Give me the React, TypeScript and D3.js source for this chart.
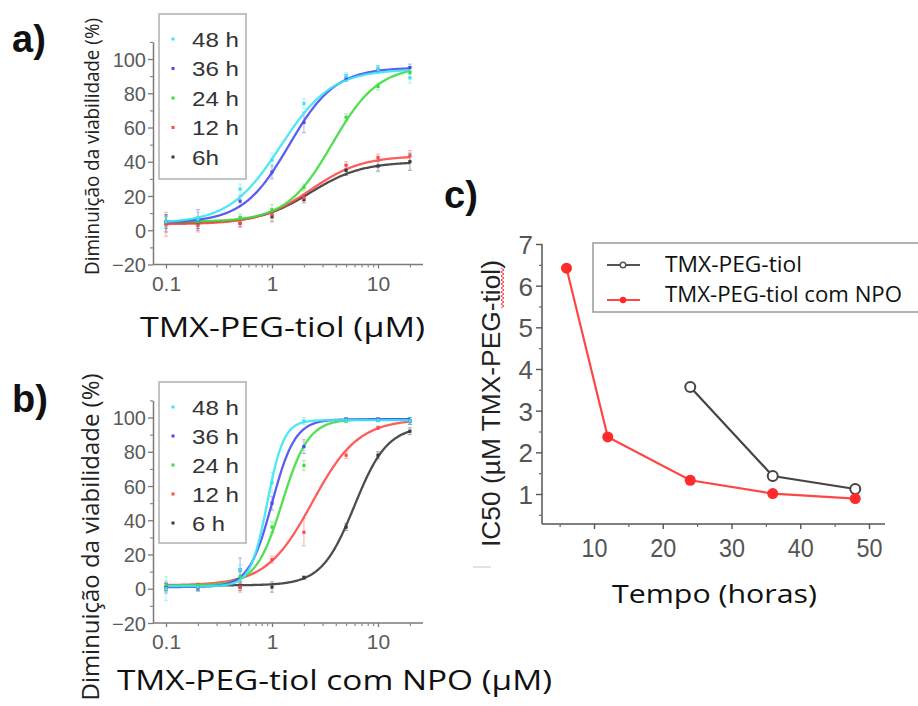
import React, { useEffect, useRef } from "react";
import * as d3 from "d3";

// ---------- Data ----------
const conc = [0.1, 0.2, 0.5, 1, 2, 5, 10, 20];
const seriesLabelsA = ["48 h", "36 h", "24 h", "12 h", "6h"];
const seriesLabelsB = ["48 h", "36 h", "24 h", "12 h", "6 h"];
const seriesColors = ["#3be6f2", "#4a4cf0", "#3fdc3f", "#ff4a4a", "#3a3a3a"];

// panel a: measured points (decrease in viability, %)
const a48 = [5, 6.5, 24, 41, 74, 90, 94, 89];
const a36 = [5, 6, 17, 34, 63, 89, 94, 95];
const a24 = [5, 5, 7.5, 12, 25, 66, 84, 92];
const a12 = [3.5, 3, 4, 9, 19, 38, 42.5, 43.5];
const a6 = [4, 4, 4, 8, 18, 35, 37.5, 40];
const aErr48 = [3, 4, 3, 4, 3, 2, 2, 3];
const aErr36 = [4, 6, 3, 4, 6, 2, 2, 2];
const aErr24 = [3, 3, 2, 3, 2, 2, 2, 3];
const aErr12 = [7, 4, 2, 2, 2, 2, 2, 3];
const aErr6 = [5, 3, 2, 3, 2, 3, 3, 5];
// panel a: fitted logistic parameters
const aBottom = [4, 4.5, 5, 3.5, 4];
const aTop = [94, 95, 96, 43.5, 40];
const aIC50 = [1.2, 1.45, 3.7, 2.3, 2.3];
const aHill = [1.8, 2, 2, 1.8, 1.8];

// panel b
const b48 = [0, 1, 11, 62, 98, 98.5, 98.5, 98];
const b36 = [0.5, 0.5, 11, 50, 83, 99, 99, 98];
const b24 = [1.5, 1.5, 7, 36, 72, 98, 98.5, 98];
const b12 = [1, 1, 1, 17, 33, 78, 94, 98];
const b6 = [1, 1, 1, 1, 6.5, 36, 78, 92];
const bErr48 = [7, 2, 3, 6, 2, 1, 1, 2];
const bErr36 = [3, 2, 7, 4, 4, 1, 1, 2];
const bErr24 = [3, 2, 3, 3, 3, 1, 1, 2];
const bErr12 = [2, 2, 3, 2, 8, 2, 1, 2];
const bErr6 = [2, 2, 2, 3, 1, 2, 2, 2];
const bBottom = [1.5, 1, 2, 2, 2];
const bTop = [98.5, 99, 99, 99, 95];
const bIC50 = [0.9, 1.0, 1.25, 2.4, 6];
const bHill = [5.5, 4, 3.5, 2, 2.8];

const yTicksAB = [-20, 0, 20, 40, 60, 80, 100];
const yMinorAB = [-10, 10, 30, 50, 70, 90, 110];
const xTicksAB = [0.1, 1, 10];
const xMinorAB = [0.2, 0.3, 0.4, 0.5, 0.6, 0.7, 0.8, 0.9, 2, 3, 4, 5, 6, 7, 8, 9, 20];

// panel c
const timeNPO = [6, 12, 24, 36, 48];
const ic50NPO = [6.42, 2.37, 1.33, 1.01, 0.89];
const timeFree = [24, 36, 48];
const ic50Free = [3.57, 1.43, 1.12];
const yTicksC = [1, 2, 3, 4, 5, 6, 7];
const yMinorC = [0.5, 1.5, 2.5, 3.5, 4.5, 5.5, 6.5];
const xTicksC = [10, 20, 30, 40, 50];
const xMinorC = [5, 15, 25, 35, 45];
const legendC = ["TMX-PEG-tiol", "TMX-PEG-tiol com NPO"];

const CAL = "'Open Sans', 'Noto Sans', sans-serif";
const HEL = "'Liberation Sans', Arial, sans-serif";

type PanelProps = {
  offset: number;
  data: number[][];
  errs: number[][];
  bottom: number[];
  top: number[];
  ic50: number[];
  hill: number[];
  labels: string[];
  labelWidths: number[];
};

function DosePanel(p: PanelProps) {
  const yAxisRef = useRef<SVGGElement>(null);
  const yMinRef = useRef<SVGGElement>(null);
  const xAxisRef = useRef<SVGGElement>(null);
  const xMinRef = useRef<SVGGElement>(null);

  const y = d3.scaleLinear().domain([-20, 110]).range([264.5 + p.offset, 41.9 + p.offset]);
  const x = d3.scaleLog().domain([0.1, 10]).range([166, 378]);
  const axisY = 264.5 + p.offset;

  useEffect(() => {
    const gy = d3.select(yAxisRef.current!);
    gy.call(d3.axisLeft(y).tickValues(yTicksAB).tickSize(5).tickSizeOuter(0).tickPadding(2) as any);
    gy.select(".domain").attr("stroke", "#7a7a7a").attr("stroke-width", 1.5);
    gy.selectAll(".tick line").attr("stroke", "#7a7a7a").attr("stroke-width", 1.3);
    gy.selectAll(".tick text")
      .attr("fill", "#5a5a5a")
      .attr("font-size", 20)
      .attr("font-family", HEL)
      .attr("dy", "0.36em");

    const gm = d3.select(yMinRef.current!);
    gm.call(d3.axisLeft(y).tickValues(yMinorAB).tickSize(3).tickFormat(() => "") as any);
    gm.select(".domain").remove();
    gm.selectAll(".tick line").attr("stroke", "#8a8a8a").attr("stroke-width", 1.2);

    const gx = d3.select(xAxisRef.current!);
    gx.call(d3.axisBottom(x).tickValues(xTicksAB).tickSize(4).tickFormat(d3.format("~g")) as any);
    gx.select(".domain").remove();
    gx.selectAll(".tick line").attr("stroke", "#7a7a7a").attr("stroke-width", 1.3);
    gx.selectAll(".tick text")
      .attr("fill", "#5a5a5a")
      .attr("font-size", 21)
      .attr("font-family", HEL)
      .attr("y", 26)
      .attr("dy", 0);

    const gxm = d3.select(xMinRef.current!);
    gxm.call(d3.axisBottom(x).tickValues(xMinorAB).tickSize(3).tickFormat(() => "") as any);
    gxm.select(".domain").remove();
    gxm.selectAll(".tick line").attr("stroke", "#8a8a8a").attr("stroke-width", 1.2);
  }, []);

  const curveX = d3.range(0, 241).map((i) => 0.1 * Math.pow(200, i / 240));
  const order = [4, 3, 2, 1, 0];

  return (
    <g>
      <line x1={153} x2={423} y1={axisY} y2={axisY} stroke="#7a7a7a" strokeWidth={1.5} />
      <g ref={yAxisRef} transform="translate(153,0)" />
      <g ref={yMinRef} transform="translate(153,0)" />
      <g ref={xAxisRef} transform={`translate(0,${axisY})`} />
      <g ref={xMinRef} transform={`translate(0,${axisY})`} />

      {/* error bars */}
      {order.map((s) =>
        p.data[s].map((v, i) => {
          const cx = x(conc[i]);
          const e = p.errs[s][i];
          return (
            <g key={`e${s}-${i}`} stroke={seriesColors[s]} strokeWidth={1} opacity={0.45}>
              <line x1={cx} x2={cx} y1={y(v - e)} y2={y(v + e)} />
              <line x1={cx - 2} x2={cx + 2} y1={y(v - e)} y2={y(v - e)} />
              <line x1={cx - 2} x2={cx + 2} y1={y(v + e)} y2={y(v + e)} />
            </g>
          );
        })
      )}

      {/* fitted curves */}
      {order.map((s) => {
        const f = (c: number) =>
          p.bottom[s] + (p.top[s] - p.bottom[s]) / (1 + Math.pow(p.ic50[s] / c, p.hill[s]));
        const ln = d3
          .line<number>()
          .x((c) => x(c))
          .y((c) => y(f(c)));
        return (
          <path
            key={`c${s}`}
            d={ln(curveX) || ""}
            fill="none"
            stroke={seriesColors[s]}
            strokeWidth={2.3}
            strokeOpacity={0.9}
          />
        );
      })}

      {/* points */}
      {order.map((s) =>
        p.data[s].map((v, i) => (
          <rect
            key={`p${s}-${i}`}
            x={x(conc[i]) - 1.6}
            y={y(v) - 1.6}
            width={3.2}
            height={3.2}
            fill={seriesColors[s]}
          />
        ))
      )}

      {/* legend */}
      <rect
        x={159}
        y={14 + p.offset + (p.offset > 0 ? 9.5 : 0)}
        width={87}
        height={p.offset > 0 ? 161 : 165}
        fill="white"
        stroke="#b0b0b0"
        strokeWidth={1.5}
      />
      {p.labels.map((lab, s) => {
        const cy = (p.offset > 0 ? 407 : 39) + s * (p.offset > 0 ? 29 : 29.5);
        return (
          <g key={`l${s}`}>
            <rect x={171.5} y={cy - 1.5} width={3} height={3} fill={seriesColors[s]} />
            <text
              x={192}
              y={cy + 7.5}
              fontFamily={HEL}
              fontSize={21}
              fill="#333"
              textLength={p.labelWidths[s]}
              lengthAdjust="spacingAndGlyphs"
            >
              {lab}
            </text>
          </g>
        );
      })}
    </g>
  );
}

function PanelC() {
  const yRef = useRef<SVGGElement>(null);
  const yMRef = useRef<SVGGElement>(null);
  const xRef = useRef<SVGGElement>(null);
  const xMRef = useRef<SVGGElement>(null);

  const x = d3.scaleLinear().domain([10, 50]).range([594, 869]);
  const y = d3.scaleLinear().domain([1, 7]).range([494, 244]);
  const axisX = 542;
  const axisY = 524;

  useEffect(() => {
    const gy = d3.select(yRef.current!);
    gy.call(d3.axisLeft(y).tickValues(yTicksC).tickFormat(d3.format("d")).tickSize(6).tickPadding(3) as any);
    gy.select(".domain").remove();
    gy.selectAll(".tick line").attr("stroke", "#555").attr("stroke-width", 1.4);
    gy.selectAll(".tick text")
      .attr("fill", "#555")
      .attr("font-size", 26)
      .attr("font-family", HEL)
      .attr("dy", "0.36em");

    const gym = d3.select(yMRef.current!);
    gym.call(d3.axisLeft(y).tickValues(yMinorC).tickSize(3).tickFormat(() => "") as any);
    gym.select(".domain").remove();
    gym.selectAll(".tick line").attr("stroke", "#666").attr("stroke-width", 1.2);

    const gx = d3.select(xRef.current!);
    gx.call(d3.axisBottom(x).tickValues(xTicksC).tickFormat(d3.format("d")).tickSize(5) as any);
    gx.select(".domain").remove();
    gx.selectAll(".tick line").attr("stroke", "#555").attr("stroke-width", 1.4);
    gx.selectAll(".tick text")
      .attr("fill", "#555")
      .attr("font-size", 26)
      .attr("font-family", HEL)
      .attr("y", 33)
      .attr("dy", 0)
      .attr("textLength", 26)
      .attr("lengthAdjust", "spacingAndGlyphs");

    const gxm = d3.select(xMRef.current!);
    gxm.call(d3.axisBottom(x).tickValues(xMinorC).tickSize(3).tickFormat(() => "") as any);
    gxm.select(".domain").remove();
    gxm.selectAll(".tick line").attr("stroke", "#666").attr("stroke-width", 1.2);
  }, []);

  const lineNPO = d3
    .line<number>()
    .x((_, i) => x(timeNPO[i]))
    .y((v) => y(v));
  const lineFree = d3
    .line<number>()
    .x((_, i) => x(timeFree[i]))
    .y((v) => y(v));

  // spell-check squiggle under "tiol"
  const sq: [number, number][] = d3.range(0, 21).map((i) => [i % 2 === 0 ? 501 : 504, 268 + i * 2]);

  return (
    <g>
      <line x1={axisX} x2={axisX} y1={244} y2={axisY} stroke="#555" strokeWidth={1.5} />
      <line x1={axisX} x2={885} y1={axisY} y2={axisY} stroke="#555" strokeWidth={1.5} />
      <g ref={yRef} transform={`translate(${axisX},0)`} />
      <g ref={yMRef} transform={`translate(${axisX},0)`} />
      <g ref={xRef} transform={`translate(0,${axisY})`} />
      <g ref={xMRef} transform={`translate(0,${axisY})`} />

      <path d={lineFree(ic50Free) || ""} fill="none" stroke="#454545" strokeWidth={2.2} />
      {ic50Free.map((v, i) => (
        <circle key={`f${i}`} cx={x(timeFree[i])} cy={y(v)} r={5} fill="white" stroke="#454545" strokeWidth={2} />
      ))}
      <path d={lineNPO(ic50NPO) || ""} fill="none" stroke="#ff4646" strokeWidth={2.2} />
      {ic50NPO.map((v, i) => (
        <circle key={`n${i}`} cx={x(timeNPO[i])} cy={y(v)} r={5.5} fill="#ff2a2a" />
      ))}

      {/* legend */}
      <rect x={593} y={243} width={340} height={69} fill="white" stroke="#9a9a9a" strokeWidth={1.5} />
      <line x1={607} x2={640} y1={265} y2={265} stroke="#555" strokeWidth={2} />
      <circle cx={623} cy={265} r={2.8} fill="white" stroke="#555" strokeWidth={1.5} />
      <text x={665} y={272} fontFamily={CAL} fontSize={21} fill="#111" textLength={137} lengthAdjust="spacingAndGlyphs">
        {legendC[0]}
      </text>
      <line x1={607} x2={640} y1={300} y2={300} stroke="#ff4646" strokeWidth={2} />
      <circle cx={623} cy={300} r={3.2} fill="#ff2a2a" />
      <text x={665} y={302} fontFamily={CAL} fontSize={21} fill="#111" textLength={237} lengthAdjust="spacingAndGlyphs">
        {legendC[1]}
      </text>

      {/* axis titles */}
      <text
        transform="translate(500,403.5) rotate(-90)"
        textAnchor="middle"
        fontFamily={HEL}
        fontSize={25}
        fill="#222"
        textLength={287}
        lengthAdjust="spacingAndGlyphs"
      >
        IC50 (µM TMX-PEG-tiol)
      </text>
      <polyline points={sq.map((d) => d.join(",")).join(" ")} fill="none" stroke="#ff3030" strokeWidth={1} />
      <line x1={473} x2={491} y1={567} y2={567} stroke="#d8d8d8" strokeWidth={1.5} />
      <text x={612} y={603} fontFamily={CAL} fontSize={25} fill="#111" textLength={205} lengthAdjust="spacingAndGlyphs">
        Tempo (horas)
      </text>
      <text x={444} y={208} fontFamily={HEL} fontWeight="bold" fontSize={38} fill="#111">
        c)
      </text>
    </g>
  );
}

export default function App() {
  return (
    <div style={{ position: "fixed", left: 0, top: 0, width: 918, height: 706, background: "white" }}>
      <svg width={918} height={706} viewBox="0 0 918 706" style={{ display: "block" }}>
        <rect width={918} height={706} fill="white" />
        <DosePanel
          offset={0}
          data={[a48, a36, a24, a12, a6]}
          errs={[aErr48, aErr36, aErr24, aErr12, aErr6]}
          bottom={aBottom}
          top={aTop}
          ic50={aIC50}
          hill={aHill}
          labels={seriesLabelsA}
          labelWidths={[47, 47, 47, 47, 27]}
        />
        <DosePanel
          offset={358.5}
          data={[b48, b36, b24, b12, b6]}
          errs={[bErr48, bErr36, bErr24, bErr12, bErr6]}
          bottom={bBottom}
          top={bTop}
          ic50={bIC50}
          hill={bHill}
          labels={seriesLabelsB}
          labelWidths={[47, 47, 47, 47, 33]}
        />
        <PanelC />

        {/* panel labels */}
        <text x={12} y={52} fontFamily={HEL} fontWeight="bold" fontSize={38} fill="#111">
          a)
        </text>
        <text x={12} y={412} fontFamily={HEL} fontWeight="bold" fontSize={38} fill="#111">
          b)
        </text>

        {/* y titles for a and b */}
        <text
          transform="translate(99,146.5) rotate(-90)"
          textAnchor="middle"
          fontFamily={CAL}
          fontSize={20}
          fill="#222"
          textLength={257}
          lengthAdjust="spacingAndGlyphs"
        >
          Diminuição da viabilidade (%)
        </text>
        <text
          transform="translate(99,537) rotate(-90)"
          textAnchor="middle"
          fontFamily={CAL}
          fontSize={24}
          fill="#222"
          textLength={327}
          lengthAdjust="spacingAndGlyphs"
        >
          Diminuição da viabilidade (%)
        </text>

        {/* x titles */}
        <text x={140} y={337} fontFamily={CAL} fontSize={27} fill="#111" textLength={285} lengthAdjust="spacingAndGlyphs">
          TMX-PEG-tiol (µM)
        </text>
        <text x={117} y={690} fontFamily={CAL} fontSize={27} fill="#111" textLength={435} lengthAdjust="spacingAndGlyphs">
          TMX-PEG-tiol com NPO (µM)
        </text>
      </svg>
    </div>
  );
}
